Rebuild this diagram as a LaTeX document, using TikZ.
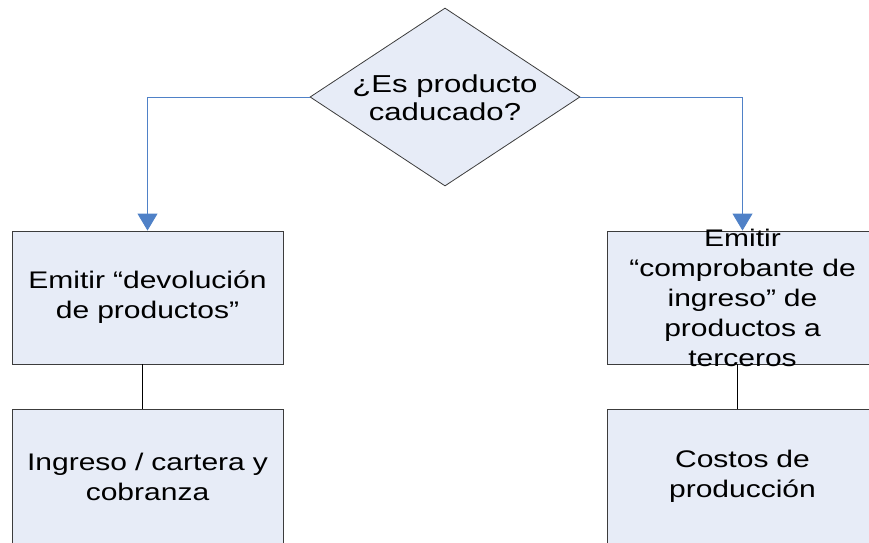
\documentclass[tikz,border=0pt]{standalone}
\usepackage{fontspec}
\setmainfont[FakeStretch=1.25]{Liberation Sans}
\newfontfamily\decisionfont[FakeStretch=1.27]{Liberation Sans}
\usetikzlibrary{shapes.geometric,arrows.meta}
\definecolor{boxfill}{RGB}{231,236,247}
\definecolor{flowblue}{RGB}{79,129,199}
\definecolor{boxline}{RGB}{60,60,60}

\begin{document}
\begin{tikzpicture}[x=1pt,y=-1pt]
  \tikzstyle{procbox}=[draw=boxline, line width=0.9pt, fill=boxfill, rectangle,
    minimum width=271pt, minimum height=133pt, inner sep=0pt,
    text width=265pt, align=center, font=\fontsize{24pt}{30pt}\selectfont]
  \tikzstyle{proctext}=[inner sep=0pt, text width=265pt, align=center,
    font=\fontsize{24pt}{30pt}\selectfont]
  \tikzstyle{decision}=[draw=boxline, line width=0.8pt, fill=boxfill, diamond,
    aspect=1.517, inner sep=0pt, minimum width=270pt, minimum height=178pt]
  \tikzstyle{decisiontext}=[inner sep=0pt, align=center,
    font=\decisionfont\fontsize{24.5pt}{28pt}\selectfont]
  \tikzstyle{flow}=[draw=flowblue, line width=0.9pt,
    -{Triangle[width=20pt,length=17pt]}]
  \tikzstyle{link}=[draw=black, line width=1.2pt]

  \useasboundingbox (0,0) rectangle (869,542);

  \node[decision] (Caducado) at (445, 97) {};
  \node[decisiontext] (CaducadoText) at (445, 98) {¿Es producto\\caducado?};

  \node[procbox] (Devolucion) at (147.5, 297.5) {Emitir “devolución\\de productos”};

  \node[procbox, minimum height=135pt] (Cartera) at (147.5, 476.5) {Ingreso / cartera y\\cobranza};

  \node[procbox] (Comprobante) at (742.5, 297.5) {};
  \node[proctext] (ComprobanteText) at (Comprobante.center)
    {Emitir\\“comprobante de\\ingreso” de\\productos a\\terceros};

  \node[procbox, minimum height=135pt] (Costos) at (742.5, 476.5) {Costos de\\producción};

  \draw[flow] (Caducado.west) -| (Devolucion.north);
  \draw[flow] (Caducado.east) -| (Comprobante.north);

  \draw[link, line width=1.6pt] ([xshift=-5pt]Devolucion.south) -- ([xshift=-5pt]Cartera.north);
  \draw[link, line width=0.9pt] ([xshift=-5pt]Comprobante.south) -- ([xshift=-5pt]Costos.north);

\end{tikzpicture}
\end{document}
